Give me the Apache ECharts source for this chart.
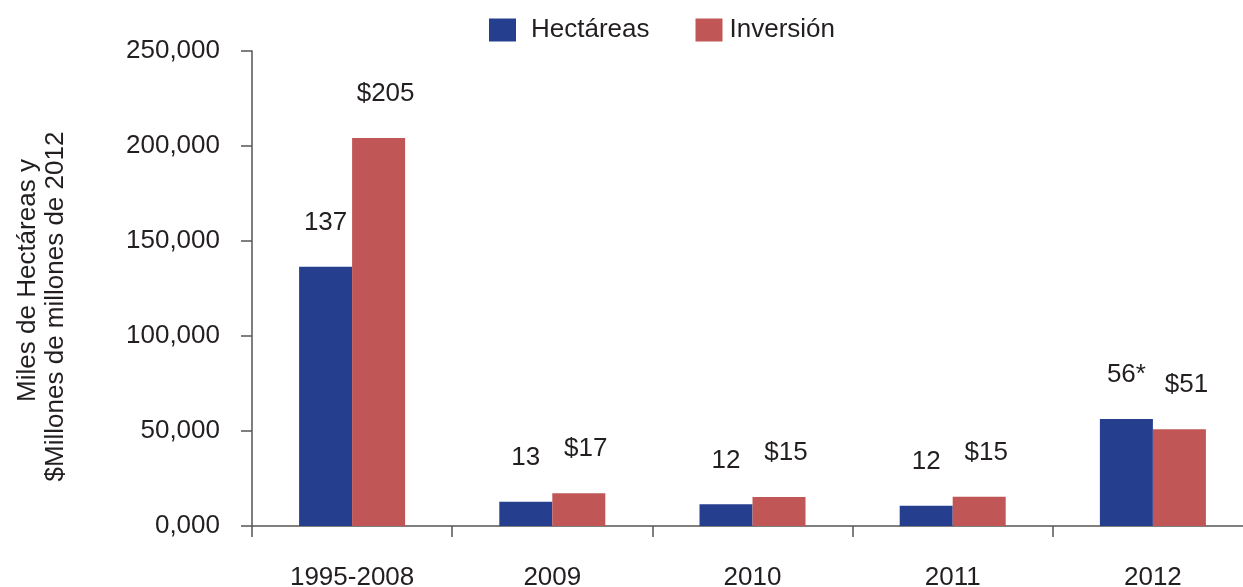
<!DOCTYPE html>
<html>
<head>
<meta charset="utf-8">
<script src="https://cdn.jsdelivr.net/npm/echarts@6/dist/echarts.min.js"></script>
<style>
html,body{margin:0;padding:0;background:#fff;}
#chart{width:1243px;height:587px;}
</style>
</head>
<body>
<div id="chart"></div>
<script>
const categories = ['1995-2008', '2009', '2010', '2011', '2012'];
const hectareas = [136500, 12800, 11400, 10700, 56300];
const inversion = [204200, 17200, 15300, 15400, 50900];
const hectareasLabels = ['137', '13', '12', '12', '56*'];
const inversionLabels = ['$205', '$17', '$15', '$15', '$51'];
const yTickLabels = ['0,000', '50,000', '100,000', '150,000', '200,000', '250,000'];

const FONT = '"Liberation Sans", Arial, sans-serif';
const TXT = '#231F20';
const AX = '#555555';

const chart = echarts.init(document.getElementById('chart'), null, {renderer: 'canvas'});
chart.setOption({
  animation: false,
  backgroundColor: '#ffffff',
  textStyle: {fontFamily: FONT, color: TXT},
  legend: {
    left: 484, top: 12,
    itemWidth: 27, itemHeight: 23, itemGap: 46,
    icon: 'rect',
    textStyle: {fontFamily: FONT, fontSize: 26, color: TXT},
    data: [
      {name: 'Hectáreas', textStyle: {padding: [0, 0, 0, 10]}},
      {name: 'Inversión', textStyle: {padding: [0, 0, 0, 2]}}
    ]
  },
  grid: {left: 252, top: 51, width: 1001, bottom: 61, outerBoundsMode: 'none', containLabel: false},
  xAxis: {
    type: 'category',
    data: categories,
    axisLine: {lineStyle: {color: AX, width: 1.5}},
    axisTick: {show: true, length: 11, lineStyle: {color: AX, width: 1.5}},
    axisLabel: {fontFamily: FONT, fontSize: 26, color: TXT, margin: 39}
  },
  yAxis: {
    type: 'value',
    min: 0, max: 250000, interval: 50000,
    name: '{a|Miles de Hectáreas y}\n{b|$Millones de millones de 2012}',
    nameLocation: 'middle',
    nameRotate: 90,
    nameGap: 182,
    nameTextStyle: {
      fontFamily: FONT, fontSize: 26, color: TXT, lineHeight: 28,
      rich: {
        a: {fontFamily: FONT, fontSize: 26, color: TXT, lineHeight: 28, padding: [0, 0, 0, 16]},
        b: {fontFamily: FONT, fontSize: 26, color: TXT, lineHeight: 28, padding: [0, 36, 0, 0]}
      }
    },
    axisLine: {show: true, lineStyle: {color: AX, width: 1.5}},
    axisTick: {show: true, length: 11, lineStyle: {color: AX, width: 1.5}},
    splitLine: {show: false},
    axisLabel: {
      fontFamily: FONT, fontSize: 26, color: TXT, margin: 32,
      formatter: function (v) { return yTickLabels[Math.round(v / 50000)]; }
    }
  },
  series: [
    {
      name: 'Hectáreas', type: 'bar', data: hectareas,
      barWidth: 53, barGap: '0%',
      itemStyle: {color: '#253F8E'},
      label: {
        show: true, position: 'top', distance: 31,
        fontFamily: FONT, fontSize: 26, color: TXT,
        formatter: function (p) { return hectareasLabels[p.dataIndex]; }
      }
    },
    {
      name: 'Inversión', type: 'bar', data: inversion,
      barWidth: 53, barGap: '0%',
      itemStyle: {color: '#C05655'},
      label: {
        show: true, position: 'top', distance: 31, offset: [7, 0],
        fontFamily: FONT, fontSize: 26, color: TXT,
        formatter: function (p) { return inversionLabels[p.dataIndex]; }
      }
    }
  ]
});
</script>
</body>
</html>
